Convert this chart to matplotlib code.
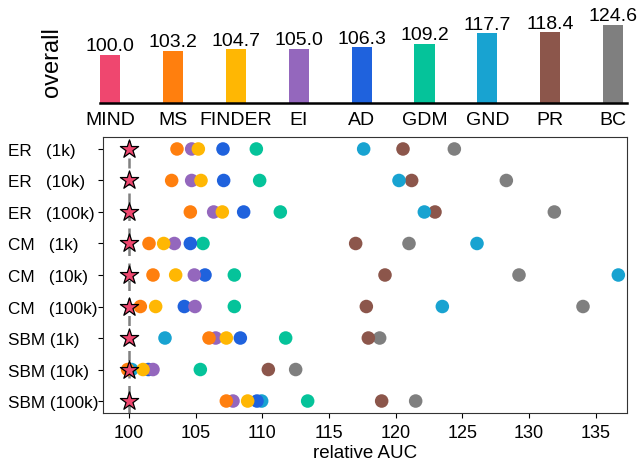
import matplotlib
matplotlib.use("Agg")
import matplotlib.pyplot as plt
import numpy as np

plt.rcParams['font.family'] = ['Liberation Sans', 'DejaVu Sans']

# methods, ordered by overall score
methods = ['MIND', 'MS', 'FINDER', 'EI', 'AD', 'GDM', 'GND', 'PR', 'BC']
colors = ['#EF476F', '#FF7F0E', '#FFB703', '#9467BD', '#1F62DD',
          '#05C39A', '#18A3D1', '#8C564B', '#7F7F7F']
overall = [100.0, 103.2, 104.7, 105.0, 106.3, 109.2, 117.7, 118.4, 124.6]

# graph settings (rows of the lower panel)
settings = ['ER   (1k)', 'ER   (10k)', 'ER   (100k)',
            'CM   (1k)', 'CM   (10k)', 'CM   (100k)',
            'SBM (1k)', 'SBM (10k)', 'SBM (100k)']

# relative AUC per setting, one list per method
mind = [100.0, 100.0, 100.0, 100.0, 100.0, 100.0, 100.0, 100.0, 100.0]
ms = [103.6, 103.2, 104.6, 101.5, 101.8, 100.85, 106.0, 99.9, 107.3]
finder = [105.2, 105.4, 107.0, 102.6, 103.5, 102.0, 107.3, 101.05, 108.9]
ei = [104.7, 104.7, 106.35, 103.4, 104.9, 104.95, 106.5, 101.8, 107.8]
ad = [107.05, 107.1, 108.6, 104.6, 105.7, 104.15, 108.35, 101.45, 109.6]
gdm = [109.55, 109.8, 111.35, 105.55, 107.9, 107.9, 111.75, 105.35, 113.4]
gnd = [117.6, 120.25, 122.15, 126.1, 136.7, 123.5, 102.7, 100.2, 109.95]
pr = [120.55, 121.2, 122.95, 117.0, 119.2, 117.8, 117.95, 110.45, 118.95]
bc = [124.4, 128.3, 131.9, 121.0, 129.25, 134.05, 118.8, 112.5, 121.5]
rel_auc = [mind, ms, finder, ei, ad, gdm, gnd, pr, bc]

W, H = 637, 464
fig = plt.figure(figsize=(W / 100, H / 100), dpi=100)

# ---- top: overall bars ----
ax_top = fig.add_axes([100 / W, 1 - 104 / H, 527 / W, 104 / H])
xpos = np.arange(len(methods))
ax_top.bar(xpos, overall, width=0.32, color=colors, bottom=0)
for x, v in zip(xpos, overall):
    ax_top.annotate(f'{v:.1f}', (x, v), xytext=(0, 0.5), textcoords='offset points',
                    ha='center', va='bottom', fontsize=14)
ax_top.set_ylim(61, 145.5)
ax_top.set_xlim(-0.16, 8.22)
ax_top.set_xticks(xpos)
ax_top.set_xticklabels(methods, fontsize=14)
ax_top.tick_params(axis='x', length=0, pad=5.5)
ax_top.set_yticks([])
for s in ['top', 'left', 'right']:
    ax_top.spines[s].set_visible(False)
ax_top.spines['bottom'].set_linewidth(1.8)
fig.text(52 / W, 1 - 62 / H, 'overall', rotation=90, ha='center', va='center', fontsize=17)

# ---- bottom: per setting dots ----
ax = fig.add_axes([103 / W, 50 / H, 524 / W, 276 / H])
ypos = np.arange(len(settings))
ax.axvline(100, color='#808080', ls=(0, (4, 3)), lw=1.8, zorder=1)
# draw from worst to best so better methods sit on top
for i in range(len(methods) - 1, 0, -1):
    ax.scatter(rel_auc[i], ypos, s=95, color=colors[i], edgecolors='none', zorder=2)
ax.scatter(rel_auc[0], ypos, s=190, marker='*', color=colors[0],
           edgecolors='black', linewidths=0.9, zorder=3)
ax.set_ylim(8.38, -0.38)
ax.set_xlim(98.05, 137.35)
ax.set_yticks(ypos)
ax.set_yticklabels(settings, fontsize=12.3, ha='left')
ax.tick_params(axis='y', pad=65)
ax.set_xticks([100, 105, 110, 115, 120, 125, 130, 135])
ax.tick_params(axis='x', labelsize=13, pad=4.5)
ax.set_xlabel('relative AUC', fontsize=13.5, labelpad=2)
for s in ax.spines.values():
    s.set_color('#333333')

fig.savefig('out.png', dpi=100)
